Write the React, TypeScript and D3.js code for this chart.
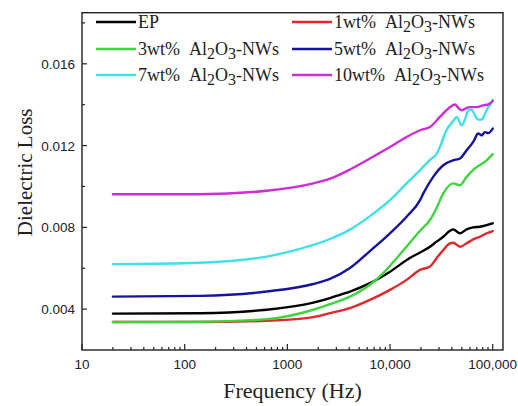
import React from "react";
import * as d3 from "d3";

// Frequency sweep (Hz) and dielectric loss readings for each sample
const epFreq = [20, 141, 628, 1790, 2600, 3250, 4070, 6370, 9980, 15600, 19600, 24500, 28400, 33000, 38300, 41200, 48000, 55700, 64600, 75100, 87200, 100000];
const epLoss = [0.00378, 0.0038, 0.00397, 0.00432, 0.00454, 0.0047, 0.00486, 0.00527, 0.00583, 0.0065, 0.00677, 0.00705, 0.0073, 0.00754, 0.00783, 0.0079, 0.00771, 0.0079, 0.008, 0.00803, 0.00811, 0.0082];

const wt1Freq = [20, 141, 628, 1790, 2600, 4070, 6370, 9980, 14500, 19600, 24500, 28400, 33000, 38300, 41200, 48000, 55700, 64600, 75100, 87200, 100000];
const wt1Loss = [0.00337, 0.00337, 0.00343, 0.00361, 0.0038, 0.00405, 0.00445, 0.00494, 0.00543, 0.00592, 0.00608, 0.00649, 0.00689, 0.00722, 0.00725, 0.00705, 0.00722, 0.00741, 0.00754, 0.00771, 0.00782];

const wt3Freq = [20, 141, 628, 1790, 2600, 4070, 6370, 8590, 11600, 15600, 19600, 24500, 28400, 33000, 41200, 48000, 55700, 67100, 87200, 100000];
const wt3Loss = [0.00337, 0.00338, 0.00351, 0.00397, 0.00424, 0.00461, 0.00519, 0.00576, 0.00649, 0.00725, 0.00783, 0.00836, 0.00895, 0.00966, 0.01015, 0.01006, 0.01047, 0.01088, 0.01128, 0.01158];

const wt5Freq = [20, 141, 628, 1790, 2600, 4070, 6370, 9980, 14500, 19600, 21100, 26300, 33000, 41200, 48000, 55700, 64600, 72300, 78000, 83900, 90400, 100000];
const wt5Loss = [0.00461, 0.00465, 0.00486, 0.00523, 0.00548, 0.00601, 0.00684, 0.00771, 0.00852, 0.00933, 0.00966, 0.01047, 0.01104, 0.01128, 0.01137, 0.01177, 0.01218, 0.01259, 0.0125, 0.01266, 0.01261, 0.01283];

const wt7Freq = [20, 141, 628, 1790, 2600, 4070, 6370, 9980, 14500, 19600, 24500, 28400, 30600, 35000, 41200, 44500, 49800, 53600, 57700, 62300, 67100, 72300, 78000, 83900, 90400, 94000, 100000];
const wt7Loss = [0.0062, 0.00627, 0.00657, 0.00714, 0.00743, 0.00789, 0.00855, 0.00933, 0.01015, 0.0108, 0.0113, 0.0116, 0.01193, 0.0127, 0.0132, 0.0134, 0.01299, 0.01327, 0.01372, 0.01376, 0.01348, 0.01327, 0.01327, 0.01356, 0.01388, 0.01397, 0.01424];

const wt10Freq = [20, 141, 628, 1790, 2600, 4070, 6370, 9980, 14500, 19600, 24500, 30600, 38300, 42900, 46100, 49800, 53600, 60000, 69700, 80800, 90400, 100000];
const wt10Loss = [0.00962, 0.00962, 0.00979, 0.01015, 0.01038, 0.01083, 0.01137, 0.01193, 0.01242, 0.01275, 0.01291, 0.0134, 0.01388, 0.01401, 0.01385, 0.01372, 0.0138, 0.01388, 0.01388, 0.01397, 0.01401, 0.01418];

const seriesNames = ["EP", "1wt%", "3wt%", "5wt%", "7wt%", "10wt%"];
const seriesColors = ["#000000", "#e3262a", "#3fd43f", "#14149e", "#3fe0ea", "#cc2ed4"];
const seriesFreq = [epFreq, wt1Freq, wt3Freq, wt5Freq, wt7Freq, wt10Freq];
const seriesLoss = [epLoss, wt1Loss, wt3Loss, wt5Loss, wt7Loss, wt10Loss];

const xTickValues = [10, 100, 1000, 10000, 100000];
const xTickLabels = ["10", "100", "1000", "10,000", "100,000"];
const yTickValues = [0.004, 0.008, 0.012, 0.016];
const yTickLabels = ["0.004", "0.008", "0.012", "0.016"];
const yMinorValues = [0.006, 0.01, 0.014, 0.018];

const W = 518;
const H = 406;
const left = 82;
const right = 503;
const top = 12.7;
const bottom = 350;

const serif = "'Liberation Serif', 'Times New Roman', serif";
const sans = "'Liberation Sans', Arial, sans-serif";

export default function App() {
  const x = d3.scaleLog().domain([10, Math.pow(10, 5.1)]).range([left, right]);
  const y = d3.scaleLinear().domain([0.002, 0.0185]).range([bottom, top]);

  const line = d3
    .line<[number, number]>()
    .x((d) => x(d[0]))
    .y((d) => y(d[1]))
    .curve(d3.curveMonotoneX);

  const xMinor: number[] = [];
  for (let p = 1; p <= 4; p++) {
    for (let m = 2; m <= 9; m++) xMinor.push(m * Math.pow(10, p));
  }

  const legendRows = [22, 49, 75];
  const legendCols = [96, 292];

  return (
    <svg
      width={W}
      height={H}
      style={{ position: "absolute", left: 0, top: 0, background: "#fff" }}
    >
      <rect x={0} y={0} width={W} height={H} fill="#fff" />

      {/* curves */}
      <g fill="none" strokeWidth={2.4} strokeLinejoin="round" strokeLinecap="round">
        {seriesNames.map((name, i) => (
          <path
            key={name}
            d={line(seriesFreq[i].map((f, j) => [f, seriesLoss[i][j]] as [number, number])) || ""}
            stroke={seriesColors[i]}
          />
        ))}
      </g>

      {/* frame */}
      <rect
        x={left}
        y={top}
        width={right - left}
        height={bottom - top}
        fill="none"
        stroke="#222"
        strokeWidth={1.4}
      />

      {/* ticks */}
      <g stroke="#222" strokeWidth={1.2}>
        {xTickValues.map((v) => (
          <line key={v} x1={x(v)} x2={x(v)} y1={bottom} y2={bottom - 6} />
        ))}
        {xMinor.map((v) => (
          <line key={v} x1={x(v)} x2={x(v)} y1={bottom} y2={bottom - 3} />
        ))}
        {yTickValues.map((v) => (
          <line key={v} x1={left} x2={left + 5} y1={y(v)} y2={y(v)} />
        ))}
        {yMinorValues.map((v) => (
          <line key={v} x1={left} x2={left + 3} y1={y(v)} y2={y(v)} />
        ))}
      </g>

      {/* tick labels */}
      <g fontFamily={sans} fontSize={13.5} fill="#222">
        {xTickValues.map((v, i) => (
          <text key={v} x={x(v)} y={bottom + 19} textAnchor="middle">
            {xTickLabels[i]}
          </text>
        ))}
        {yTickValues.map((v, i) => (
          <text key={v} x={left - 7} y={y(v) + 5} textAnchor="end">
            {yTickLabels[i]}
          </text>
        ))}
      </g>

      {/* axis titles */}
      <text
        x={(left + right) / 2}
        y={398}
        textAnchor="middle"
        fontFamily={serif}
        fontSize={22}
        fill="#222"
      >
        Frequency (Hz)
      </text>
      <text
        transform={`translate(32, ${(top + bottom) / 2 - 9}) rotate(-90)`}
        textAnchor="middle"
        fontFamily={serif}
        fontSize={21}
        fill="#222"
      >
        Dielectric Loss
      </text>

      {/* legend */}
      <g fontFamily={serif} fontSize={18} fill="#222">
        {seriesNames.map((name, i) => {
          const row = Math.floor(i / 2);
          const col = i % 2;
          const ly = legendRows[row];
          const lx = legendCols[col];
          return (
            <g key={name}>
              <line
                x1={lx}
                x2={lx + 40}
                y1={ly}
                y2={ly}
                stroke={seriesColors[i]}
                strokeWidth={2.6}
              />
              <text x={lx + 42} y={ly + 6}>
                {i === 0 ? (
                  name
                ) : (
                  <>
                    <tspan>{name}</tspan>
                    <tspan dx={9}>Al</tspan>
                    <tspan dy={4} fontSize={16}>2</tspan>
                    <tspan dy={-4}>O</tspan>
                    <tspan dy={4} fontSize={16}>3</tspan>
                    <tspan dy={-4}>-NWs</tspan>
                  </>
                )}
              </text>
            </g>
          );
        })}
      </g>
    </svg>
  );
}
